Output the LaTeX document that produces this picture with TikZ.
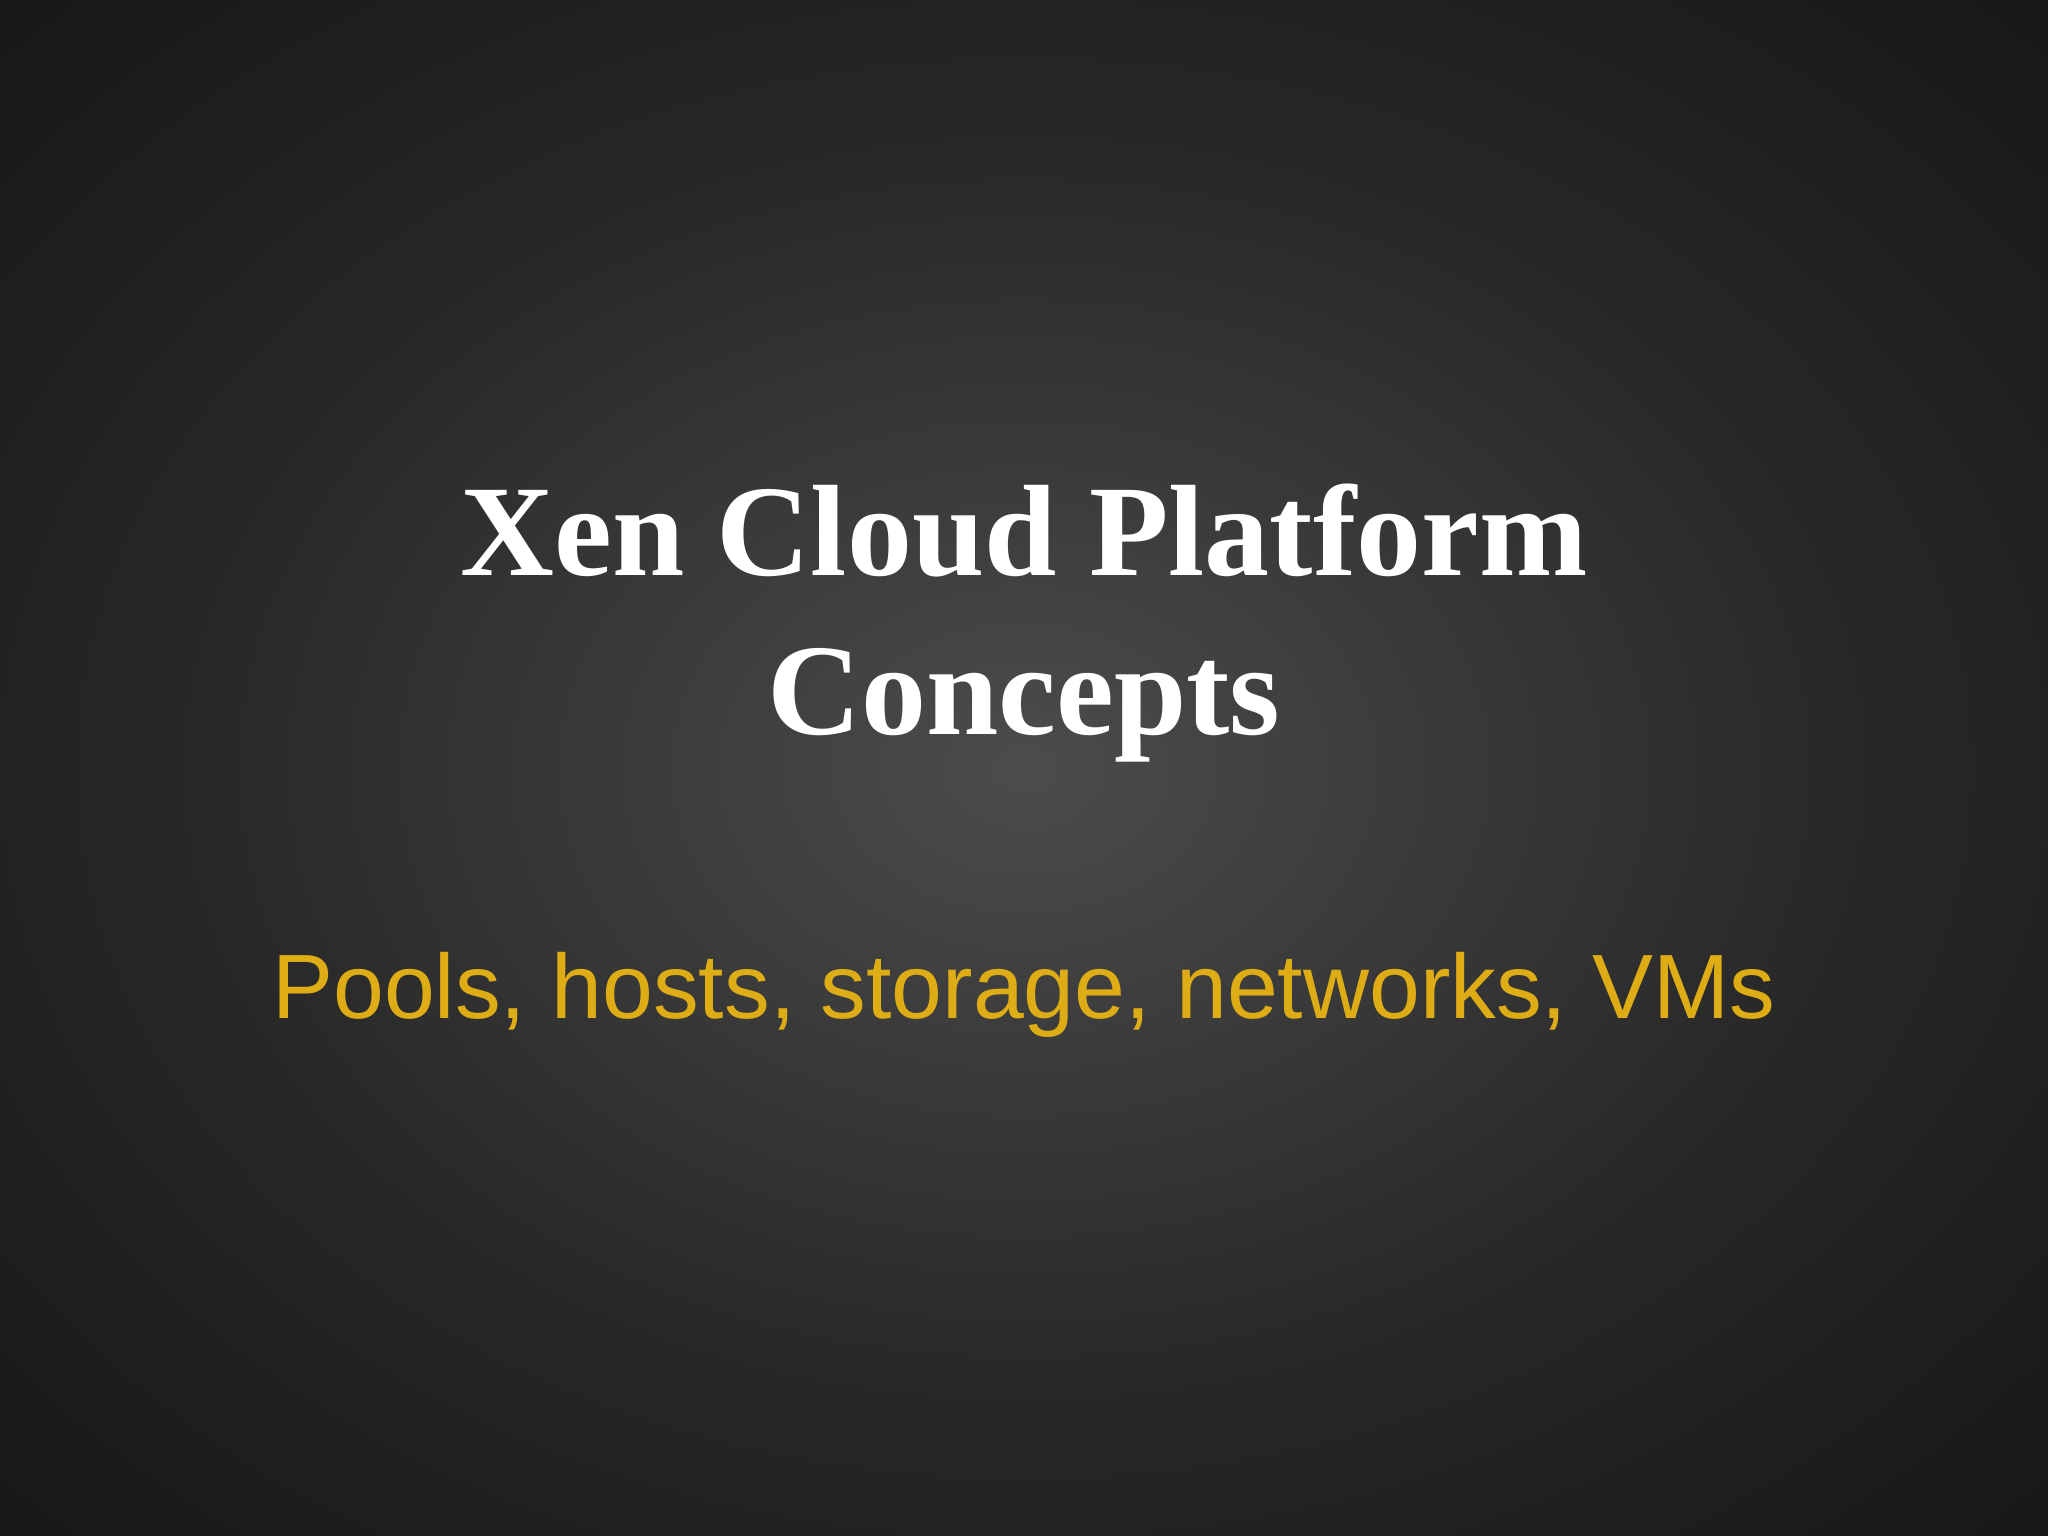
\documentclass[tikz,border=0pt]{standalone}
\usepackage{fontspec}
\setmainfont{Liberation Serif}
\newfontfamily\subfont{Liberation Sans}
\definecolor{bgc}{RGB}{76,76,76}
\definecolor{bgm}{RGB}{40,40,40}
\definecolor{bgo}{RGB}{18,18,18}
\definecolor{bge}{RGB}{10,10,10}
\definecolor{subc}{RGB}{222,172,20}
\pgfdeclareradialshading{slidebg}{\pgfpoint{0bp}{0bp}}{color(0bp)=(bgc); color(20bp)=(bgm); color(40bp)=(bgo); color(60bp)=(bge)}
\begin{document}
\begin{tikzpicture}
\useasboundingbox (0,0) rectangle (20.48,15.36);
\shade[shading=slidebg] (0,0) rectangle (20.48,15.36);
\node[name=t1, white, font=\fontsize{37pt}{45pt}\selectfont\bfseries, anchor=base] at (10.24,9.6) {Xen Cloud Platform};
\node[name=t2, white, font=\fontsize{37pt}{45pt}\selectfont\bfseries, anchor=base] at (10.24,8.01) {Concepts};
\node[name=sub, text=subc, font=\fontsize{26pt}{30pt}\subfont, anchor=base] at (10.24,5.17) {Pools, hosts, storage, networks, VMs};
\end{tikzpicture}
\end{document}
